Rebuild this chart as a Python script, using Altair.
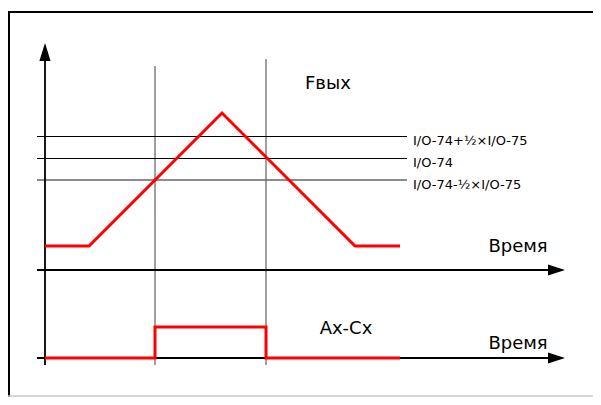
import altair as alt
import pandas as pd

# ---- data (time units along the horizontal axes, value units upward) ----
f_time = [0, 44, 177, 310, 355]
f_value = [24, 24, 157, 24, 24]

ax_time = [0, 110, 110, 221, 221, 355]
ax_level = [0, 0, 31, 31, 0, 0]
AX_BASE = -88  # baseline of the lower (Ax-Cx) time axis

thr_values = [134, 112, 90]
thr_labels = ["I/O-74+½×I/O-75", "I/O-74", "I/O-74-½×I/O-75"]
thr_colors = ["#000000", "#000000", "#666666"]
thr_widths = [1, 1, 1.6]
thr_offsets = [0.5, 0.5, 0]

marker_time = [110, 221]
marker_top = [204, 211]
marker_bottom = [-95, -95]

title_texts = ["Fвых", "Время", "Ax-Cx", "Время"]
title_t = [260, 473, 301, 473]
title_v = [181, 18, -64, -79]
title_align = ["left", "center", "center", "center"]

FONT = "DejaVu Sans"

XS = alt.Scale(domain=[-37, 548], nice=False, zero=False)
YS = alt.Scale(domain=[-127, 262], nice=False, zero=False)


def X(field, t="Q"):
    return alt.X(f"{field}:{t}", scale=XS, axis=None)


def Y(field, t="Q"):
    return alt.Y(f"{field}:{t}", scale=YS, axis=None)


f_df = pd.DataFrame({"t": f_time, "v": f_value})
ax_df = pd.DataFrame({"t": ax_time, "v": [AX_BASE + a for a in ax_level],
                      "i": list(range(len(ax_time)))})
thr_df = pd.DataFrame({"v": [v - o for v, o in zip(thr_values, thr_offsets)],
                       "vt": thr_values, "label": thr_labels,
                       "c": thr_colors, "w": thr_widths,
                       "x0": [-8] * 3, "x1": [362] * 3, "xl": [368] * 3})
mk_df = pd.DataFrame({"t": marker_time, "top": marker_top, "bot": marker_bottom})

axes_h = pd.DataFrame({"x0": [-8, -8], "x1": [504, 504], "y": [0, AX_BASE],
                       "xa": [511.5, 511.5]})
axes_v = pd.DataFrame({"x": [0], "y0": [-95], "y1": [210], "ya": [218]})

texts = pd.DataFrame({"t": title_t, "v": title_v, "s": title_texts, "a": title_align})

one = pd.DataFrame({"d": [0]})
frame_top = alt.Chart(one).mark_rule(color="#000", strokeWidth=2).encode(
    x=alt.value(0), x2=alt.value(591), y=alt.value(4))
frame_left = alt.Chart(one).mark_rule(color="#000", strokeWidth=2).encode(
    x=alt.value(1), y=alt.value(3), y2=alt.value(389))
frame_right = alt.Chart(one).mark_rule(color="#000", strokeWidth=2).encode(
    x=alt.value(590), y=alt.value(3), y2=alt.value(389))
frame_shadow = alt.Chart(one).mark_rule(color="#bbbbbb", strokeWidth=1.5).encode(
    x=alt.value(592.5), y=alt.value(5), y2=alt.value(389))
frame_bottom = alt.Chart(one).mark_rule(color="#c8c8c8", strokeWidth=1.5).encode(
    x=alt.value(0), x2=alt.value(593), y=alt.value(388))

markers = alt.Chart(mk_df).mark_rule(color="#777777", strokeWidth=1.4).encode(
    x=X("t"), y=Y("top"), y2="bot:Q")

thr_lines = alt.Chart(thr_df).mark_rule().encode(
    x=X("x0"), x2="x1:Q", y=Y("v"), color=alt.Color("c:N", scale=None),
    strokeWidth=alt.StrokeWidth("w:Q", scale=None))
thr_text = alt.Chart(thr_df).mark_text(
    align="left", baseline="alphabetic", dy=9, font=FONT, fontSize=13, color="#000").encode(
    x=X("xl"), y=Y("vt"), text="label:N")

h_axes = alt.Chart(axes_h).mark_rule(color="#000", strokeWidth=1.8).encode(
    x=X("x0"), x2="x1:Q", y=Y("y"))
h_arrows = alt.Chart(axes_h).mark_point(
    shape="M1,0L-1,-0.65L-1,0.65Z", size=289, filled=True, color="#000", opacity=1).encode(
    x=X("xa"), y=Y("y"))
v_axis = alt.Chart(axes_v).mark_rule(color="#000", strokeWidth=1.8).encode(
    x=X("x"), y=Y("y0"), y2="y1:Q")
v_arrow = alt.Chart(axes_v).mark_point(
    shape="M0,-1L0.62,1L-0.62,1Z", size=324, filled=True, color="#000", opacity=1).encode(
    x=X("x"), y=Y("ya"))

f_line = alt.Chart(f_df).mark_line(color="#ff0000", strokeWidth=3).encode(
    x=X("t"), y=Y("v"))
ax_line = alt.Chart(ax_df).mark_line(color="#ff0000", strokeWidth=3).encode(
    x=X("t"), y=Y("v"), order="i:Q")

labels_left = alt.Chart(texts).transform_filter(alt.datum.a == "left").mark_text(
    align="left", baseline="alphabetic", font=FONT, fontSize=18, color="#000").encode(
    x=X("t"), y=Y("v"), text="s:N")
labels_center = alt.Chart(texts).transform_filter(alt.datum.a == "center").mark_text(
    align="center", baseline="alphabetic", font=FONT, fontSize=18, color="#000").encode(
    x=X("t"), y=Y("v"), text="s:N")

chart = alt.layer(
    frame_top, frame_left, frame_right, frame_shadow, frame_bottom,
    markers, thr_lines, thr_text, h_axes, h_arrows, v_axis, v_arrow,
    f_line, ax_line, labels_left, labels_center,
).properties(
    width=585, height=389, padding=0,
    autosize=alt.AutoSizeParams(type="none"),
    background="white",
).configure_view(stroke=None)

chart.save("out.html", embed_options={"renderer": "svg", "actions": False})
